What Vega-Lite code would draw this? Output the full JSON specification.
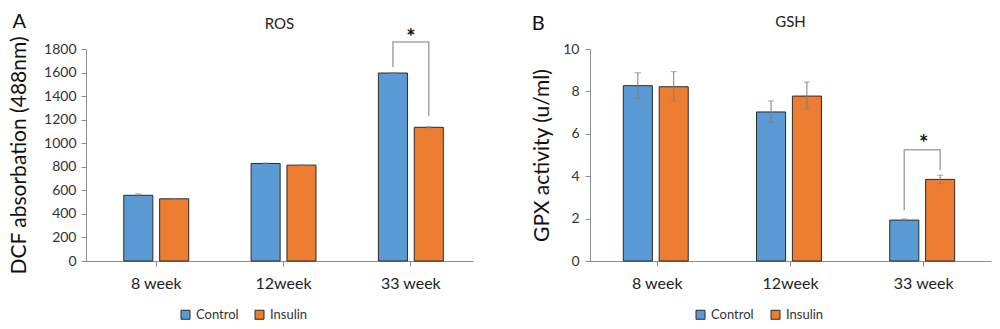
{
  "$schema": "https://vega.github.io/schema/vega-lite/v6.json",
  "padding": {"left": 8, "top": 11, "right": 5, "bottom": 0},
  "spacing": 58,
  "config": {
    "font": "Lato",
    "view": {"stroke": null},
    "axis": {"grid": false, "domainColor": "#8c8c8c", "tickColor": "#8c8c8c", "labelColor": "#333333", "titleColor": "#111111", "titleFontWeight": "normal", "labelOverlap": false, "labelBound": false},
    "title": {"fontWeight": "normal", "color": "#222222"}
  },
  "resolve": {"scale": {"color": "independent"}, "legend": {"color": "independent"}},
  "hconcat": [
    {
      "title": {"text": "A", "anchor": "start", "fontSize": 20, "dx": 4, "offset": -15, "color": "#111111"},
      "vconcat": [
        {
          "width": 387,
          "height": 212,
          "title": {"text": "ROS", "fontSize": 15, "offset": -5},
          "data": {"values": [
            {"week": "8 week", "group": "Control", "value": 558, "lo": 546, "hi": 570},
            {"week": "8 week", "group": "Insulin", "value": 528, "lo": 524, "hi": 532},
            {"week": "12week", "group": "Control", "value": 828, "lo": 824, "hi": 832},
            {"week": "12week", "group": "Insulin", "value": 814, "lo": 811, "hi": 817},
            {"week": "33 week", "group": "Control", "value": 1596, "lo": 1591, "hi": 1601},
            {"week": "33 week", "group": "Insulin", "value": 1135, "lo": 1131, "hi": 1139}
          ]},
          "encoding": {
            "x": {"field": "week", "type": "nominal", "scale": {"domain": ["8 week", "12week", "33 week"], "paddingInner": 0.49, "paddingOuter": 0.265, "align": 0.56}, "axis": {"title": null, "labelAngle": 0, "labelFontSize": 16, "labelPadding": 9, "tickSize": 5, "labelColor": "#222222"}}
          },
          "layer": [
            {
              "mark": {"type": "bar", "stroke": "#2b2b2b", "strokeWidth": 1},
              "encoding": {
                "xOffset": {"field": "group", "type": "nominal", "scale": {"domain": ["Control", "Insulin"], "paddingInner": 0.19}},
                "y": {"field": "value", "type": "quantitative", "title": "DCF absorbation (488nm)", "scale": {"domain": [0, 1800], "nice": false}, "axis": {"values": [0, 200, 400, 600, 800, 1000, 1200, 1400, 1600, 1800], "format": "d", "labelOverlap": false, "titleFontSize": 21, "labelFontSize": 14, "tickSize": 5, "labelPadding": 5, "titlePadding": 14}},
                "color": {"field": "group", "type": "nominal", "scale": {"domain": ["Control", "Insulin"], "range": ["#5B9BD5", "#ED7D31"]}, "legend": {"orient": "none", "legendX": 93, "legendY": 259, "direction": "horizontal", "title": null, "symbolType": "square", "symbolSize": 81, "symbolStrokeColor": "#2b2b2b", "symbolStrokeWidth": 1, "labelFontSize": 13, "labelOffset": 4, "columnPadding": 14, "padding": 0, "labelColor": "#333333"}}
              }
            },
            {
              "mark": {"type": "rule", "color": "#7f7f7f"},
              "encoding": {
                "xOffset": {"field": "group", "type": "nominal", "scale": {"domain": ["Control", "Insulin"], "paddingInner": 0.19}},
                "y": {"field": "lo", "type": "quantitative", "title": "DCF absorbation (488nm)", "scale": {"domain": [0, 1800], "nice": false}, "axis": {"values": [0, 200, 400, 600, 800, 1000, 1200, 1400, 1600, 1800], "format": "d", "labelOverlap": false}},
                "y2": {"field": "hi"}
              }
            },
            {
              "mark": {"type": "tick", "color": "#7f7f7f", "size": 6, "thickness": 1},
              "encoding": {
                "xOffset": {"field": "group", "type": "nominal", "scale": {"domain": ["Control", "Insulin"], "paddingInner": 0.19}},
                "y": {"field": "lo", "type": "quantitative", "title": "DCF absorbation (488nm)", "scale": {"domain": [0, 1800], "nice": false}, "axis": {"values": [0, 200, 400, 600, 800, 1000, 1200, 1400, 1600, 1800], "format": "d", "labelOverlap": false}}
              }
            },
            {
              "mark": {"type": "tick", "color": "#7f7f7f", "size": 6, "thickness": 1},
              "encoding": {
                "xOffset": {"field": "group", "type": "nominal", "scale": {"domain": ["Control", "Insulin"], "paddingInner": 0.19}},
                "y": {"field": "hi", "type": "quantitative", "title": "DCF absorbation (488nm)", "scale": {"domain": [0, 1800], "nice": false}, "axis": {"values": [0, 200, 400, 600, 800, 1000, 1200, 1400, 1600, 1800], "format": "d", "labelOverlap": false}}
              }
            },
            {
              "data": {"values": [
                {"week": "33 week", "group": "Control", "y": 1647, "seq": 1},
                {"week": "33 week", "group": "Control", "y": 1859, "seq": 2},
                {"week": "33 week", "group": "Insulin", "y": 1859, "seq": 3},
                {"week": "33 week", "group": "Insulin", "y": 1231, "seq": 4}
              ]},
              "mark": {"type": "line", "color": "#a6a6a6", "strokeWidth": 1.5},
              "encoding": {
                "xOffset": {"field": "group", "type": "nominal", "scale": {"domain": ["Control", "Insulin"], "paddingInner": 0.19}},
                "y": {"field": "y", "type": "quantitative", "title": "DCF absorbation (488nm)", "scale": {"domain": [0, 1800], "nice": false}, "axis": {"values": [0, 200, 400, 600, 800, 1000, 1200, 1400, 1600, 1800], "format": "d", "labelOverlap": false}},
                "order": {"field": "seq", "type": "quantitative"}
              }
            },
            {
              "data": {"values": [{"week": "33 week", "y": 1835, "label": "*"}]},
              "mark": {"type": "text", "fontSize": 22, "fontWeight": "bold", "baseline": "alphabetic", "color": "#111111"},
              "encoding": {
                "y": {"field": "y", "type": "quantitative", "title": "DCF absorbation (488nm)", "scale": {"domain": [0, 1800], "nice": false}, "axis": {"values": [0, 200, 400, 600, 800, 1000, 1200, 1400, 1600, 1800], "format": "d", "labelOverlap": false}},
                "text": {"field": "label"}
              }
            }
          ]
        }
      ]
    },
    {
      "title": {"text": "B", "anchor": "start", "fontSize": 20, "dx": 0, "offset": -19, "color": "#111111"},
      "vconcat": [
        {
          "width": 401,
          "height": 212,
          "title": {"text": "GSH", "fontSize": 15, "offset": 12},
          "data": {"values": [
            {"week": "8 week", "group": "Control", "value": 8.27, "lo": 7.67, "hi": 8.88},
            {"week": "8 week", "group": "Insulin", "value": 8.22, "lo": 7.55, "hi": 8.93},
            {"week": "12week", "group": "Control", "value": 7.03, "lo": 6.54, "hi": 7.55},
            {"week": "12week", "group": "Insulin", "value": 7.78, "lo": 7.18, "hi": 8.44},
            {"week": "33 week", "group": "Control", "value": 1.93, "lo": 1.88, "hi": 1.98},
            {"week": "33 week", "group": "Insulin", "value": 3.85, "lo": 3.65, "hi": 4.05}
          ]},
          "encoding": {
            "x": {"field": "week", "type": "nominal", "scale": {"domain": ["8 week", "12week", "33 week"], "paddingInner": 0.49, "paddingOuter": 0.25}, "axis": {"title": null, "labelAngle": 0, "labelFontSize": 16, "labelPadding": 9, "tickSize": 5, "labelColor": "#222222"}}
          },
          "layer": [
            {
              "mark": {"type": "bar", "stroke": "#2b2b2b", "strokeWidth": 1},
              "encoding": {
                "xOffset": {"field": "group", "type": "nominal", "scale": {"domain": ["Control", "Insulin"], "paddingInner": 0.17}},
                "y": {"field": "value", "type": "quantitative", "title": "GPX activity (u/ml)", "scale": {"domain": [0, 10], "nice": false}, "axis": {"values": [0, 2, 4, 6, 8, 10], "labelOverlap": false, "titleFontSize": 21, "labelFontSize": 14, "tickSize": 5, "labelPadding": 6, "titlePadding": 10}},
                "color": {"field": "group", "type": "nominal", "scale": {"domain": ["Control", "Insulin"], "range": ["#5B9BD5", "#ED7D31"]}, "legend": {"orient": "none", "legendX": 104, "legendY": 259, "direction": "horizontal", "title": null, "symbolType": "square", "symbolSize": 81, "symbolStrokeColor": "#2b2b2b", "symbolStrokeWidth": 1, "labelFontSize": 13, "labelOffset": 4, "columnPadding": 15, "padding": 0, "labelColor": "#333333"}}
              }
            },
            {
              "mark": {"type": "rule", "color": "#7f7f7f"},
              "encoding": {
                "xOffset": {"field": "group", "type": "nominal", "scale": {"domain": ["Control", "Insulin"], "paddingInner": 0.17}},
                "y": {"field": "lo", "type": "quantitative", "title": "GPX activity (u/ml)", "scale": {"domain": [0, 10], "nice": false}, "axis": {"values": [0, 2, 4, 6, 8, 10], "labelOverlap": false}},
                "y2": {"field": "hi"}
              }
            },
            {
              "mark": {"type": "tick", "color": "#7f7f7f", "size": 6, "thickness": 1},
              "encoding": {
                "xOffset": {"field": "group", "type": "nominal", "scale": {"domain": ["Control", "Insulin"], "paddingInner": 0.17}},
                "y": {"field": "lo", "type": "quantitative", "title": "GPX activity (u/ml)", "scale": {"domain": [0, 10], "nice": false}, "axis": {"values": [0, 2, 4, 6, 8, 10], "labelOverlap": false}}
              }
            },
            {
              "mark": {"type": "tick", "color": "#7f7f7f", "size": 6, "thickness": 1},
              "encoding": {
                "xOffset": {"field": "group", "type": "nominal", "scale": {"domain": ["Control", "Insulin"], "paddingInner": 0.17}},
                "y": {"field": "hi", "type": "quantitative", "title": "GPX activity (u/ml)", "scale": {"domain": [0, 10], "nice": false}, "axis": {"values": [0, 2, 4, 6, 8, 10], "labelOverlap": false}}
              }
            },
            {
              "data": {"values": [
                {"week": "33 week", "group": "Control", "y": 2.39, "seq": 1},
                {"week": "33 week", "group": "Control", "y": 5.25, "seq": 2},
                {"week": "33 week", "group": "Insulin", "y": 5.25, "seq": 3},
                {"week": "33 week", "group": "Insulin", "y": 4.28, "seq": 4}
              ]},
              "mark": {"type": "line", "color": "#a6a6a6", "strokeWidth": 1.5},
              "encoding": {
                "xOffset": {"field": "group", "type": "nominal", "scale": {"domain": ["Control", "Insulin"], "paddingInner": 0.17}},
                "y": {"field": "y", "type": "quantitative", "title": "GPX activity (u/ml)", "scale": {"domain": [0, 10], "nice": false}, "axis": {"values": [0, 2, 4, 6, 8, 10], "labelOverlap": false}},
                "order": {"field": "seq", "type": "quantitative"}
              }
            },
            {
              "data": {"values": [{"week": "33 week", "y": 5.2, "label": "*"}]},
              "mark": {"type": "text", "fontSize": 22, "fontWeight": "bold", "baseline": "alphabetic", "color": "#111111"},
              "encoding": {
                "y": {"field": "y", "type": "quantitative", "title": "GPX activity (u/ml)", "scale": {"domain": [0, 10], "nice": false}, "axis": {"values": [0, 2, 4, 6, 8, 10], "labelOverlap": false}},
                "text": {"field": "label"}
              }
            }
          ]
        }
      ]
    }
  ]
}
